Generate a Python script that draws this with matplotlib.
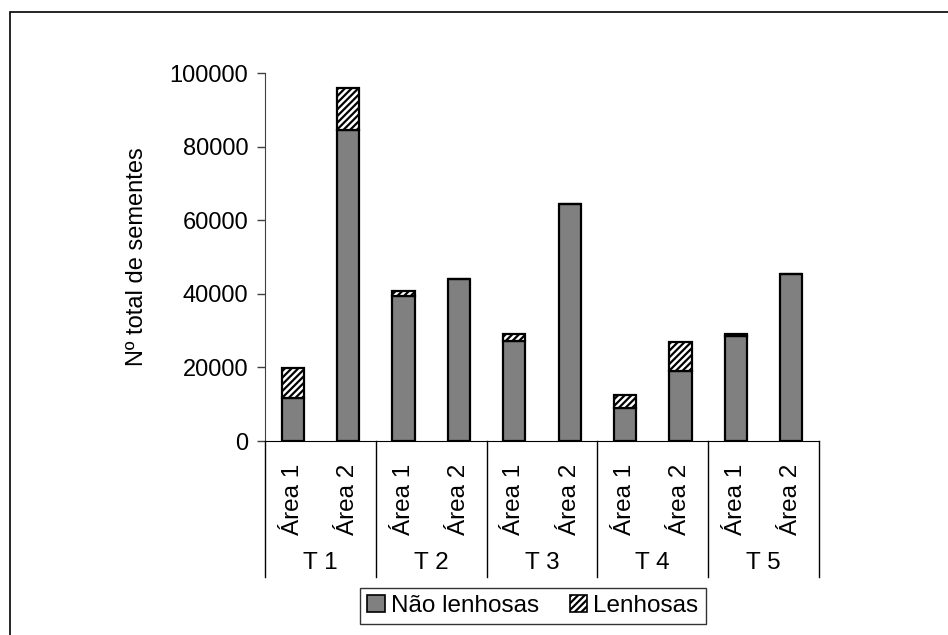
import matplotlib
matplotlib.use("Agg")
import matplotlib.pyplot as plt
import matplotlib.transforms as mtransforms
from matplotlib.patches import Rectangle, Patch
import numpy as np

plt.rcParams['font.family'] = ['Liberation Sans', 'DejaVu Sans']
plt.rcParams['hatch.linewidth'] = 1.6

groups = ["T 1", "T 2", "T 3", "T 4", "T 5"]
areas = ["Área 1", "Área 2"]
nao_lenhosas = [11700, 84500, 39500, 44000, 27300, 64400, 9000, 19000, 28400, 45500]
lenhosas = [8200, 11300, 1300, 0, 1700, 0, 3500, 8000, 800, 0]
yticks = [0, 20000, 40000, 60000, 80000, 100000]

W, H = 948, 635
fig = plt.figure(figsize=(W / 100, H / 100), dpi=100)
ax = fig.add_axes([265 / W, 1 - 441 / H, 554 / W, 368 / H])

x = np.arange(len(nao_lenhosas))
bw = 0.4
ax.bar(x, nao_lenhosas, width=bw, color="#808080", edgecolor="black", linewidth=1.6, zorder=3)
ax.bar(x, lenhosas, width=bw, bottom=nao_lenhosas, color="white", edgecolor="black",
       hatch="/////", linewidth=1.6, zorder=3)

ax.set_xlim(-0.5, len(x) - 0.5)
ax.set_ylim(0, 100000)
ax.set_yticks(yticks)
ax.set_yticklabels([str(v) for v in yticks], fontsize=17)
ax.tick_params(axis='y', length=6, width=1, pad=6, color="#404040")
ax.set_xticks([])
for s in ["top", "right"]:
    ax.spines[s].set_visible(False)
ax.spines["left"].set_color("#404040")
ax.spines["bottom"].set_color("black")
ax.set_ylabel("Nº total de sementes", fontsize=17)
ax.yaxis.set_label_coords(-0.211, 0.5)

trans = mtransforms.blended_transform_factory(ax.transData, ax.transAxes)
ysep = -(577 - 441) / 368
for b in np.arange(-0.5, len(x), 2):
    ax.plot([b, b], [0, ysep], transform=trans, color="black", lw=1, clip_on=False)
for i in x:
    ax.text(i, -(499 - 441) / 368, areas[i % 2], transform=trans, rotation=90,
            ha="center", va="center", fontsize=17.5)
for g, name in enumerate(groups):
    ax.text(2 * g + 0.5, -(563 - 441) / 368, name, transform=trans,
            ha="center", va="center", fontsize=17.5)

handles = [Patch(facecolor="#808080", edgecolor="black", linewidth=1.2, label="Não lenhosas"),
           Patch(facecolor="white", edgecolor="black", hatch="/////", linewidth=1.2, label="Lenhosas")]
leg = fig.legend(handles=handles, loc="center", bbox_to_anchor=(533 / W, 1 - 606 / H),
                 ncol=2, fontsize=17.5, frameon=True, fancybox=False, handlelength=0.7,
                 handleheight=0.7, handletextpad=0.25, columnspacing=1.3,
                 borderpad=0.3, borderaxespad=0, edgecolor="black")
leg.get_frame().set_linewidth(1)

fig.patches.append(Rectangle((9.5 / W, -1), 2, 2 - 12 / H, transform=fig.transFigure,
                             fill=False, edgecolor="black", lw=1.2))

fig.savefig("out.png", dpi=100)
